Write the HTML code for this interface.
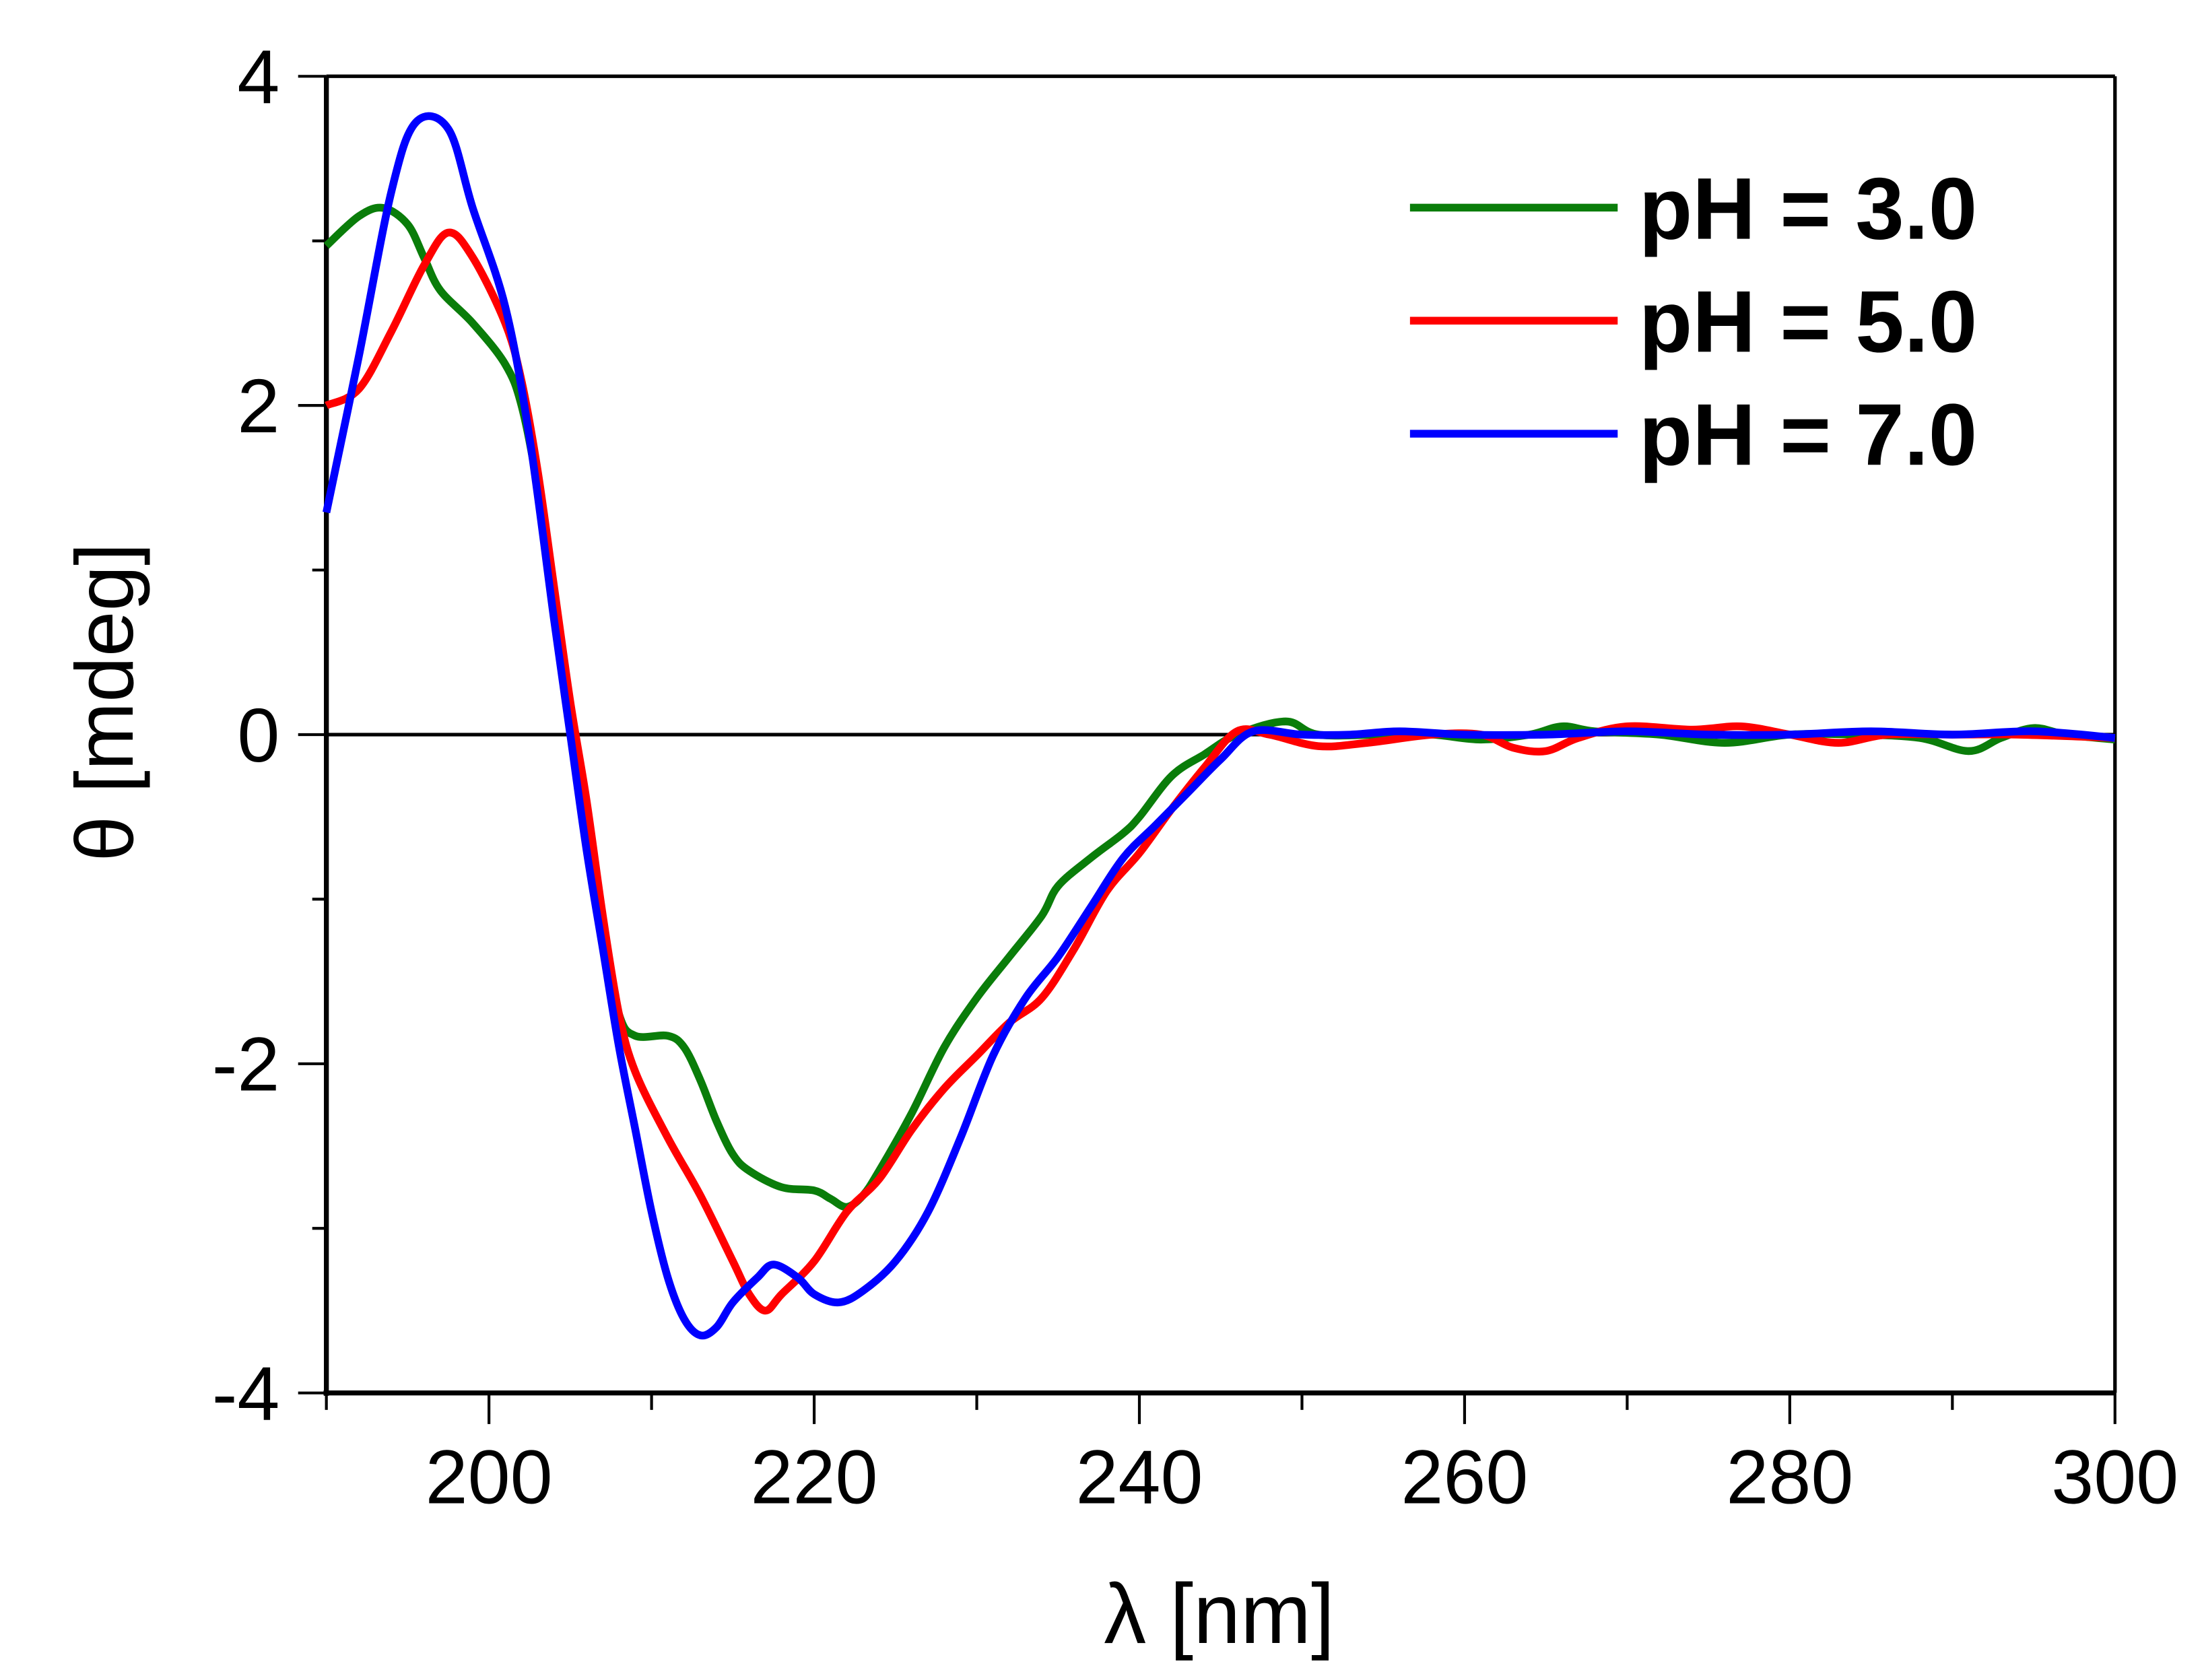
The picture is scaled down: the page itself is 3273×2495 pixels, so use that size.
<!DOCTYPE html>
<html><head><meta charset="utf-8"><style>
html,body{margin:0;padding:0;background:#fff;}
svg{display:block;}
text{font-family:"Liberation Sans",sans-serif;}
</style></head><body>
<svg id="chart" width="3273" height="2495" viewBox="0 0 1560 1189.2" xmlns="http://www.w3.org/2000/svg">
<g id="axes"></g>
<g id="series"></g>
<g id="legend"></g>
<text x="863" y="1163" font-size="60" text-anchor="middle">λ [nm]</text>
<text transform="translate(94,497) rotate(-90)" font-size="58" text-anchor="middle">θ [mdeg]</text>
</svg>
<script>
const xTicks = [200,220,240,260,280,300];
const yTicks = [-4,-2,0,2,4];
const seriesNames = ["pH = 3.0","pH = 5.0","pH = 7.0"];
const greenX = [190,192,193.5,195,196,197,199,201,202,203,204,205,206,207,208,209,211,212,213,214,215,216,218,220,221,222,223,224,226,228,230,232,234,235,237,239,240,242,244,246,249,251,255,258,261,264,266,268,272,276,280,284,288,291,293,295,297,300];
const greenY = [2.97,3.15,3.2,3.1,2.9,2.7,2.5,2.25,2.0,1.5,0.8,0.1,-0.6,-1.2,-1.7,-1.83,-1.83,-1.9,-2.1,-2.35,-2.55,-2.65,-2.75,-2.77,-2.82,-2.87,-2.8,-2.65,-2.3,-1.9,-1.6,-1.35,-1.1,-0.92,-0.75,-0.6,-0.5,-0.25,-0.12,0.0,0.08,0.0,0.0,0.0,-0.03,0.0,0.05,0.02,0.0,-0.05,0.0,0.0,-0.02,-0.1,-0.02,0.04,0,-0.03];
const redX = [190,192,194,196,197.5,199,201,202,203,204,205,206,207,208,209,211,213,215,216,217,218,220,222,224,226,228,230,232,234,236,238,240,242,244,246,248,251,254,258,261,263,265,267,270,274,277,280,283,286,290,294,300];
const redY = [2.0,2.1,2.45,2.85,3.05,2.9,2.5,2.15,1.6,0.9,0.2,-0.4,-1.1,-1.7,-2.05,-2.45,-2.8,-3.2,-3.4,-3.5,-3.4,-3.2,-2.9,-2.7,-2.4,-2.15,-1.95,-1.75,-1.6,-1.3,-0.95,-0.72,-0.45,-0.2,0.02,0.0,-0.07,-0.05,0.0,0.0,-0.08,-0.1,-0.02,0.05,0.03,0.05,0.0,-0.05,0.0,0.0,0.0,-0.02];
const blueX = [190,192,194,195.5,197.5,199,201,202.5,204,205,206,207,208,209,210,211,212,213,214,215,216.5,217.5,219,220,221.5,223,225,227,229,231,233,235,237,239,241,243,245,247,250,253,256,260,265,270,275,280,285,290,295,300];
const blueY = [1.35,2.3,3.3,3.72,3.68,3.2,2.6,1.8,0.7,0.0,-0.7,-1.3,-1.9,-2.4,-2.9,-3.3,-3.55,-3.65,-3.6,-3.45,-3.3,-3.22,-3.3,-3.4,-3.45,-3.38,-3.2,-2.9,-2.45,-1.95,-1.6,-1.35,-1.05,-0.75,-0.55,-0.35,-0.15,0.02,0.0,0.0,0.02,0.0,0.0,0.02,0.0,0.0,0.02,0.0,0.02,-0.02];
const colors = ["#0a7d0a","#ff0000","#0000ff"];

const X0=231,X1=1497,Y0=986,Y1=54;
const sx = v => X0 + (v-190)/(300-190)*(X1-X0);
const sy = v => Y0 - (v+4)/8*(Y0-Y1);
const NS="http://www.w3.org/2000/svg";
function mk(tag, attrs, parent){const e=document.createElementNS(NS,tag);for(const k in attrs)e.setAttribute(k,attrs[k]);parent.appendChild(e);return e;}
const axes=document.getElementById('axes');
let l;
l=mk('line',{x1:X0,y1:Y1,x2:X1,y2:Y1,stroke:'#000','stroke-width':2.5},axes);


l=mk('line',{x1:X1,y1:Y1,x2:X1,y2:Y0,stroke:'#000','stroke-width':2.5},axes);


l=mk('line',{x1:X0,y1:sy(0),x2:X1,y2:sy(0),stroke:'#000','stroke-width':2.5},axes);


l=mk('line',{x1:X0,y1:Y1,x2:X0,y2:Y0+2,stroke:'#000','stroke-width':3.5},axes);


l=mk('line',{x1:X0-2,y1:Y0,x2:X1,y2:Y0,stroke:'#000','stroke-width':3.5},axes);


for(let v=-4;v<=4;v++){
  const major=yTicks.includes(v);
  l=mk('line',{x1:X0-(major?20:10),y1:sy(v),x2:X0,y2:sy(v),stroke:'#000','stroke-width':2},axes);
  
  
}
yTicks.forEach(v=>{
  const t=mk('text',{x:198,y:sy(v)+19,'font-size':54,'text-anchor':'end'},axes);
  t.textContent=String(v);
  
  
});
for(let v=190;v<=300;v+=10){
  const major=xTicks.includes(v);
  l=mk('line',{x1:sx(v),y1:Y0,x2:sx(v),y2:Y0+(major?22:12),stroke:'#000','stroke-width':2},axes);
  
  
}
xTicks.forEach(v=>{
  const t=mk('text',{x:sx(v),y:1064,'font-size':54,'text-anchor':'middle'},axes);
  t.textContent=String(v);
  
  
});
function pathFor(xs,ys){
  const p=xs.map((x,i)=>[sx(x),sy(ys[i])]);
  let d='M'+p[0][0]+','+p[0][1];
  for(let i=0;i<p.length-1;i++){
    const a=p[i-1]||p[i],b=p[i],c=p[i+1],e=p[i+2]||c;
    const c1=[b[0]+(c[0]-a[0])/6,b[1]+(c[1]-a[1])/6];
    const c2=[c[0]-(e[0]-b[0])/6,c[1]-(e[1]-b[1])/6];
    d+=' C'+c1[0]+','+c1[1]+' '+c2[0]+','+c2[1]+' '+c[0]+','+c[1];
  }
  return d;
}
const ser=document.getElementById('series');
const data=[[greenX,greenY],[redX,redY],[blueX,blueY]];
const sNames=['series-ph3','series-ph5','series-ph7'];
data.forEach((s,i)=>{
  const p=mk('path',{d:pathFor(s[0],s[1]),fill:'none',stroke:colors[i],'stroke-width':5.5,'stroke-linejoin':'round'},ser);
  
  
});
const leg=document.getElementById('legend');
seriesNames.forEach((n,i)=>{
  const y=147+i*80;
  const ln=mk('line',{x1:998,y1:y,x2:1145,y2:y,stroke:colors[i],'stroke-width':5.5},leg);
  
  
  const t=mk('text',{x:1160,y:y+22,'font-size':62,'font-weight':'bold'},leg);
  t.textContent=n;
  
  
});
</script>
</body></html>
